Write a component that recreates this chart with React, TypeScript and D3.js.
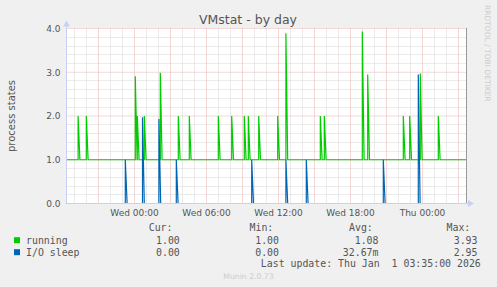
import React from "react";
import * as d3 from "d3";

const W = 497;
const H = 287;

const timeStart = "2025-12-30T18:20:00";
const timeEnd = "2026-01-01T03:40:00";
const yMax = 4;
const yMajorTicks = [0, 1, 2, 3, 4];
const xLabelTimes = [
  "2025-12-31T00:00:00",
  "2025-12-31T06:00:00",
  "2025-12-31T12:00:00",
  "2025-12-31T18:00:00",
  "2026-01-01T00:00:00",
];

// running: baseline and spikes
const runningBase = 1;
const runningSpikeTimes = [
  "2025-12-30T19:18", "2025-12-30T19:59", "2025-12-31T00:04", "2025-12-31T00:14",
  "2025-12-31T00:49", "2025-12-31T02:09", "2025-12-31T03:39", "2025-12-31T04:34",
  "2025-12-31T06:59", "2025-12-31T08:06", "2025-12-31T09:09", "2025-12-31T09:29",
  "2025-12-31T10:21", "2025-12-31T11:56", "2025-12-31T12:37", "2025-12-31T15:29",
  "2025-12-31T15:49", "2025-12-31T18:59", "2025-12-31T19:26", "2025-12-31T22:24",
  "2025-12-31T22:56", "2025-12-31T23:49", "2026-01-01T01:19",
];
const runningSpikeValues = [
  2, 2, 2.91, 2,
  2, 2.99, 2, 2,
  2, 2, 2, 2,
  2, 2, 3.89, 2,
  2, 3.93, 2.95, 2,
  2, 2.97, 2,
];

// I/O sleep: baseline and spikes
const ioBase = 0;
const ioSpikeTimes = [
  "2025-12-30T23:14", "2025-12-31T00:40", "2025-12-31T02:02", "2025-12-31T03:29",
  "2025-12-31T09:46", "2025-12-31T12:37", "2025-12-31T14:19", "2025-12-31T20:44",
  "2025-12-31T23:39",
];
const ioSpikeValues = [1, 1.97, 1.93, 1, 1, 1, 1, 1, 2.95];

const legendNames = ["running", "I/O sleep"];
const legendColors = ["#00cc00", "#0066b3"];
const curValues = ["1.00", "0.00"];
const minValues = ["1.00", "0.00"];
const avgValues = ["1.08", "32.67m"];
const maxValues = ["3.93", "2.95"];

const title = "VMstat - by day";
const yLabel = "process states";
const lastUpdate = "Last update: Thu Jan  1 03:35:00 2026";
const footer = "Munin 2.0.73";
const sideText = "RRDTOOL / TOBI OETIKER";

const SANS = "'DejaVu Sans', sans-serif";
const MONO = "'DejaVu Sans Mono', monospace";
const FONT_COLOR = "#555555";

function buildPoints(base: number, times: string[], values: number[], start: Date, end: Date) {
  const pts: [Date, number][] = [[start, base]];
  times.forEach((t, i) => {
    const d = new Date(t);
    const down = new Date(d.getTime() + 9 * 60000);
    pts.push([d, base]);
    pts.push([d, values[i]]);
    pts.push([down, base]);
  });
  pts.push([end, base]);
  return pts;
}

export default function App() {
  const start = new Date(timeStart);
  const end = new Date(timeEnd);
  const left = 66.5, right = 466.5, top = 28.5, bottom = 203.5;
  const x = d3.scaleTime().domain([start, end]).range([left, right]);
  const y = d3.scaleLinear().domain([0, yMax]).range([bottom, top]);

  const hours = d3.timeHour.every(1)!.range(start, end);
  const yMinor = d3.range(0, yMax + 0.001, 0.2).filter((v) => Math.abs(v - Math.round(v)) > 0.01);

  const line = d3
    .line<[Date, number]>()
    .x((d) => x(d[0]))
    .y((d) => y(d[1]));

  const runPts = buildPoints(runningBase, runningSpikeTimes, runningSpikeValues, start, end);
  const ioPts = buildPoints(ioBase, ioSpikeTimes, ioSpikeValues, start, end);
  const fmt = d3.timeFormat("%a %H:%M");

  const legendRowY = [243.5, 255.5];
  const axisColor = "#c8d0f4";
  const minorGrid = "#d6d6d6";
  const majorGrid = "#eab0b0";

  return (
    <svg
      width={W}
      height={H}
      style={{ position: "fixed", left: 0, top: 0, display: "block" }}
      xmlns="http://www.w3.org/2000/svg"
    >
      <rect x={0} y={0} width={W} height={H} fill="#f0f0f0" />
      <rect x={67} y={28} width={400} height={176} fill="#ffffff" />

      {/* minor horizontal grid */}
      {yMinor.map((v, i) => (
        <line key={"ym" + i} x1={left} x2={right} y1={Math.round(y(v) - 0.5) + 0.5} y2={Math.round(y(v) - 0.5) + 0.5}
          stroke={minorGrid} strokeWidth={1} strokeDasharray="1,1" />
      ))}
      {/* vertical grid */}
      {hours.map((h, i) => {
        const major = h.getHours() % 3 === 0;
        const xx = Math.round(x(h) - 0.5) + 0.5;
        return (
          <line key={"xg" + i} x1={xx} x2={xx} y1={top} y2={bottom}
            stroke={major ? majorGrid : minorGrid} strokeWidth={1} strokeDasharray="1,1" />
        );
      })}
      {/* major horizontal grid */}
      {yMajorTicks.map((v) => (
        <line key={"yM" + v} x1={left} x2={right} y1={y(v)} y2={y(v)}
          stroke={majorGrid} strokeWidth={1} strokeDasharray="1,1" />
      ))}

      {/* series */}
      <path d={line(runPts) || ""} fill="none" stroke={legendColors[0]} strokeWidth={1.2} />
      <path d={line(ioPts) || ""} fill="none" stroke={legendColors[1]} strokeWidth={1.2} />

      {/* axes */}
      <line x1={left} x2={left} y1={bottom} y2={24} stroke={axisColor} strokeWidth={1} />
      <line x1={left} x2={470} y1={bottom} y2={bottom} stroke={axisColor} strokeWidth={1} />
      <path d={`M${left - 3.5},26.5 L${left},20.5 L${left + 3.5},26.5 Z`} fill={axisColor} />
      <path d={`M468,${bottom - 3.5} L474,${bottom} L468,${bottom + 3.5} Z`} fill={axisColor} />
      <line x1={right} x2={right} y1={top - 0.5} y2={bottom - 0.5} stroke="#9a9a9a" strokeWidth={1} />

      {/* y tick labels */}
      {yMajorTicks.map((v) => (
        <text key={"yl" + v} x={60.5} y={y(v) + 3.3} textAnchor="end" fontFamily={SANS} fontSize={9} fill={FONT_COLOR}>
          {v.toFixed(1)}
        </text>
      ))}
      {/* x tick labels */}
      {xLabelTimes.map((t) => {
        const d = new Date(t);
        return (
          <text key={t} x={x(d)} y={215.5} textAnchor="middle" fontFamily={SANS} fontSize={9} fill={FONT_COLOR}>
            {fmt(d)}
          </text>
        );
      })}

      {/* title */}
      <text x={248} y={24} textAnchor="middle" fontFamily={SANS} fontSize={12.5} fill={FONT_COLOR}>
        {title}
      </text>
      {/* y label */}
      <text transform={`translate(15,${(top + bottom) / 2}) rotate(-90)`} textAnchor="middle" fontFamily={SANS} fontSize={10} fill={FONT_COLOR}>
        {yLabel}
      </text>
      {/* side text */}
      <text transform="translate(485,5) rotate(90)" fontFamily={SANS} fontSize={7.5} fill="#cccccc">
        {sideText}
      </text>

      {/* legend */}
      <text x={148.7} y={230.7} fontFamily={MONO} fontSize={9.9} fill={FONT_COLOR}>Cur:</text>
      <text x={249.5} y={230.7} fontFamily={MONO} fontSize={9.9} fill={FONT_COLOR}>Min:</text>
      <text x={349} y={230.7} fontFamily={MONO} fontSize={9.9} fill={FONT_COLOR}>Avg:</text>
      <text x={446.5} y={230.7} fontFamily={MONO} fontSize={9.9} fill={FONT_COLOR}>Max:</text>
      {legendNames.map((n, i) => (
        <g key={n}>
          <rect x={14} y={legendRowY[i] - 6.3} width={6} height={6} fill={legendColors[i]} />
          <text x={26} y={legendRowY[i]} fontFamily={MONO} fontSize={9.9} fill={FONT_COLOR}>{n}</text>
          <text x={179.8} y={legendRowY[i]} textAnchor="end" fontFamily={MONO} fontSize={9.9} fill={FONT_COLOR}>{curValues[i]}</text>
          <text x={279} y={legendRowY[i]} textAnchor="end" fontFamily={MONO} fontSize={9.9} fill={FONT_COLOR}>{minValues[i]}</text>
          <text x={378.5} y={legendRowY[i]} textAnchor="end" fontFamily={MONO} fontSize={9.9} fill={FONT_COLOR}>{avgValues[i]}</text>
          <text x={477.5} y={legendRowY[i]} textAnchor="end" fontFamily={MONO} fontSize={9.9} fill={FONT_COLOR}>{maxValues[i]}</text>
        </g>
      ))}
      <text x={260.8} y={267.3} fontFamily={MONO} fontSize={9.9} fill={FONT_COLOR} style={{ whiteSpace: "pre" }} xmlSpace="preserve">
        {lastUpdate}
      </text>
      <text x={248.5} y={279} textAnchor="middle" fontFamily={SANS} fontSize={7.7} fill="#cccccc">
        {footer}
      </text>
    </svg>
  );
}
